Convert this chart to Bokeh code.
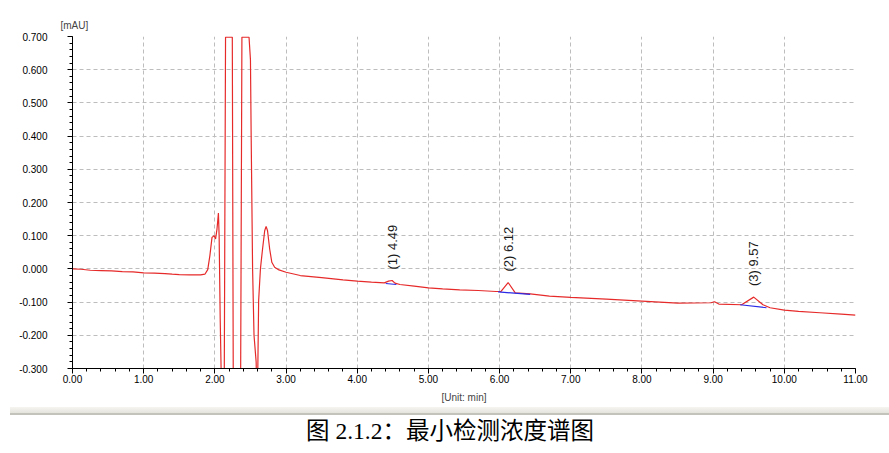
import math
from bokeh.plotting import figure
from bokeh.layouts import column
from bokeh.models import Range1d, FixedTicker, PrintfTickFormatter, ColumnDataSource, Div
from bokeh.core.properties import value
from bokeh.embed import file_html
from bokeh.resources import INLINE

# ---------------- data ----------------
trace_t = [0.00, 0.12, 0.25, 0.40, 0.55, 0.70, 0.85, 1.00, 1.15, 1.30, 1.40, 1.50,
           1.65, 1.80, 1.86, 1.90, 1.93, 1.96, 1.99, 2.01, 2.03, 2.05, 2.06, 2.075,
           2.10, 2.13, 2.15, 2.245, 2.26, 2.36, 2.38, 2.48, 2.50, 2.51, 2.53, 2.55,
           2.58, 2.595, 2.615, 2.64, 2.67, 2.70, 2.72, 2.74, 2.77, 2.80, 2.84, 2.90,
           3.00, 3.20, 3.50, 3.80, 4.00, 4.20, 4.38, 4.44, 4.49, 4.53, 4.60, 4.80,
           5.00, 5.20, 5.44, 5.70, 5.95, 6.02, 6.12, 6.22, 6.43, 6.70, 7.00, 7.50,
           8.00, 8.50, 8.97, 9.02, 9.08, 9.40, 9.57, 9.70, 9.80, 10.00, 10.20, 10.50,
           10.80, 11.00]
trace_v = [0.000, -0.001, -0.004, -0.005, -0.006, -0.008, -0.009, -0.012, -0.013, -0.014, -0.016, -0.017,
           -0.018, -0.018, -0.016, -0.002, 0.040, 0.095, 0.100, 0.090, 0.120, 0.168, 0.100, -0.150,
           -0.450, -0.450, 0.698, 0.698, -0.450, -0.450, 0.698, 0.698, 0.630, 0.400, 0.000, -0.200,
           -0.280, -0.450, -0.095, 0.000, 0.060, 0.115, 0.128, 0.115, 0.060, 0.020, 0.005, -0.003,
           -0.010, -0.020, -0.026, -0.033, -0.037, -0.040, -0.042, -0.037, -0.035, -0.043, -0.047, -0.052,
           -0.057, -0.060, -0.063, -0.065, -0.068, -0.068, -0.041, -0.072, -0.075, -0.082, -0.086, -0.091,
           -0.097, -0.103, -0.102, -0.099, -0.106, -0.108, -0.085, -0.108, -0.117, -0.124, -0.128, -0.132,
           -0.136, -0.139]

# integration baselines (blue)
base_t = [[4.40, 4.55], [5.98, 6.43], [9.38, 9.75]]
base_v = [[-0.044, -0.047], [-0.069, -0.077], [-0.108, -0.117]]

# peak annotations
peak_names = ["(1) 4.49", "(2) 6.12", "(3) 9.57"]
peak_t = [4.49, 6.12, 9.57]
peak_v = [-0.035, -0.041, -0.085]

x_ticks = [0, 1, 2, 3, 4, 5, 6, 7, 8, 9, 10, 11]
y_ticks = [-0.3, -0.2, -0.1, 0.0, 0.1, 0.2, 0.3, 0.4, 0.5, 0.6, 0.7]

y_unit = "[mAU]"
x_unit = "[Unit: min]"
caption = "图 2.1.2：最小检测浓度谱图"

# ---------------- main chart ----------------
FONT = "Liberation Sans"
p = figure(width=889, height=406, output_backend="svg", toolbar_location=None,
           x_range=Range1d(0, 11), y_range=Range1d(-0.3, 0.7),
           min_border_left=72, min_border_right=34, min_border_top=36, min_border_bottom=38,
           title=y_unit)
p.outline_line_color = None
p.background_fill_color = "white"
p.border_fill_color = "white"

p.title.text_font = FONT
p.title.text_font_size = "10px"
p.title.text_font_style = "normal"
p.title.align = "left"
p.title.offset = -12
p.title.standoff = 12

minor_x = [i * 0.2 for i in range(0, 56)]
minor_y = [-0.3 + i * 0.02 for i in range(0, 51)]
p.xaxis.ticker = FixedTicker(ticks=x_ticks, minor_ticks=minor_x)
p.yaxis.ticker = FixedTicker(ticks=y_ticks, minor_ticks=minor_y)
p.xaxis.formatter = PrintfTickFormatter(format="%.2f")
p.yaxis.formatter = PrintfTickFormatter(format="%.3f")

for ax in (p.xaxis[0], p.yaxis[0]):
    ax.axis_line_color = "black"
    ax.axis_line_width = 1
    ax.major_tick_line_color = "black"
    ax.minor_tick_line_color = "black"
    ax.major_tick_out = 5
    ax.major_tick_in = 0
    ax.minor_tick_out = 3
    ax.minor_tick_in = 0
    ax.major_label_text_font = FONT
    ax.major_label_text_font_size = "10px"
    ax.major_label_text_color = "black"

p.yaxis.major_label_standoff = 20
p.xaxis.major_label_standoff = 1
p.xaxis.axis_label = x_unit
p.xaxis.axis_label_text_font = FONT
p.xaxis.axis_label_text_font_size = "10px"
p.xaxis.axis_label_text_font_style = "normal"
p.xaxis.axis_label_standoff = 6

p.grid.grid_line_color = "#bdbdbd"
p.grid.grid_line_dash = "4 3"
p.grid.grid_line_width = 1
p.xgrid.ticker = FixedTicker(ticks=x_ticks)
p.ygrid.ticker = FixedTicker(ticks=y_ticks)

p.line(trace_t, trace_v, line_color="#e62a2a", line_width=1.2)
p.multi_line(base_t, base_v, line_color="#2a2ae6", line_width=1.2)

src = ColumnDataSource(dict(t=peak_t, v=peak_v, name=peak_names))
p.text(x="t", y="v", text="name", source=src, angle=math.pi / 2,
       text_align="left", text_baseline="middle", y_offset=-11,
       text_font=value(FONT), text_font_size="13px", text_color="#1a1a1a")

# ---------------- caption strip (scrollbar band + figure caption) ----------------
strip_html = (
    '<div style="position:relative;width:889px;height:45px;margin:0;padding:0;">'
    '<div style="position:absolute;left:10px;right:0;top:1px;height:6px;'
    'background:linear-gradient(#f6f5f0,#e4e3dc);"></div>'
    '<div style="position:absolute;left:10px;right:0;top:7px;height:2px;background:#c3c2bb;"></div>'
    '<div style="position:absolute;left:0;width:900px;top:13px;line-height:24px;text-align:center;'
    "font-family:'Liberation Serif','Noto Sans CJK SC';font-size:23.5px;color:#000;white-space:nowrap;\">"
    + caption +
    '</div></div>'
)
strip = Div(text=strip_html, width=889, height=45, margin=(0, 0, 0, 0))

layout = column(p, strip, spacing=0)
open("out.html", "w").write(file_html(layout, INLINE))
